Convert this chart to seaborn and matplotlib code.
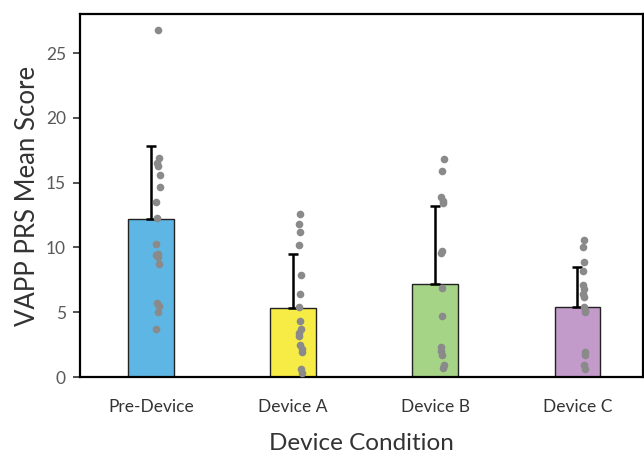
import numpy as np
import pandas as pd
import matplotlib
matplotlib.use("Agg")
import matplotlib.pyplot as plt
import seaborn as sns

# bar values (means) and upper error (SD)
conditions = ["Pre-Device", "Device A", "Device B", "Device C"]
means = [12.2, 5.3, 7.2, 5.4]
sds = [5.6, 4.2, 6.0, 3.1]
bar_colors = ["#5DB6E4", "#F7EC45", "#A5D486", "#C29BCB"]

# individual participant scores
pre_device = [26.8, 16.9, 16.5, 16.3, 15.6, 14.7, 13.5, 12.3, 10.3, 9.5, 9.4,
              9.3, 8.7, 5.7, 5.5, 5.0, 3.7]
device_a = [12.6, 11.8, 11.2, 10.2, 7.9, 6.4, 5.4, 4.3, 3.7, 3.4, 3.2, 2.5,
            2.2, 1.9, 0.6, 0.3]
device_b = [16.8, 15.9, 13.9, 13.6, 13.4, 9.7, 9.6, 6.9, 4.7, 2.3, 2.0, 1.7,
            0.9, 0.7]
device_c = [10.6, 10.0, 8.9, 8.2, 7.1, 6.8, 6.4, 6.2, 5.4, 5.2, 5.0, 1.9, 1.7,
            0.9, 0.6]

sns.set_style("white")
plt.rcParams['font.family'] = ['Lato', 'DejaVu Sans']

bars = pd.DataFrame({"condition": conditions, "score": means})
points = pd.DataFrame({
    "condition": (["Pre-Device"] * len(pre_device) + ["Device A"] * len(device_a)
                  + ["Device B"] * len(device_b) + ["Device C"] * len(device_c)),
    "score": pre_device + device_a + device_b + device_c,
})

fig = plt.figure(figsize=(6.44, 4.57), dpi=100)
ax = fig.add_axes([0.124, 0.175, 0.874, 0.794])

sns.barplot(data=bars, x="condition", y="score", hue="condition",
            palette=bar_colors, saturation=1, width=0.32, edgecolor="#222222",
            linewidth=1.0, legend=False, ax=ax, zorder=2)

ax.errorbar(range(len(conditions)), means, yerr=[np.zeros(len(sds)), sds],
            fmt="none", ecolor="black", elinewidth=1.8, capsize=3.5, capthick=1.8,
            zorder=3)

np.random.seed(3)
sns.stripplot(data=points, x="condition", y="score", color="#8A8A8A",
              jitter=0.015, size=5.5, linewidth=0, ax=ax, zorder=4)
# dots sit a little right of the bar centre
for coll in ax.collections[-4:]:
    off = coll.get_offsets()
    if len(off):
        coll.set_offsets(off + np.array([0.05, 0]))

ax.set_ylim(0, 28)
ax.set_xlim(-0.5, 3.46)
ax.set_yticks([0, 5, 10, 15, 20, 25])
ax.set_xlabel("Device Condition", fontsize=17.5, color="#333333", labelpad=13)
ax.set_ylabel("VAPP PRS Mean Score", fontsize=18.5, color="#333333", labelpad=4)
ax.tick_params(axis="y", direction="out", length=5, width=1.2, colors="#333333",
               labelsize=12.5, labelcolor="#595959", left=True, pad=5)
ax.tick_params(axis="x", length=0, labelsize=12.5, labelcolor="#333333", pad=16)
for side in ["left", "bottom", "top", "right"]:
    ax.spines[side].set_visible(True)
    ax.spines[side].set_color("black")
    ax.spines[side].set_linewidth(1.6)

fig.savefig("out.png", dpi=100)
